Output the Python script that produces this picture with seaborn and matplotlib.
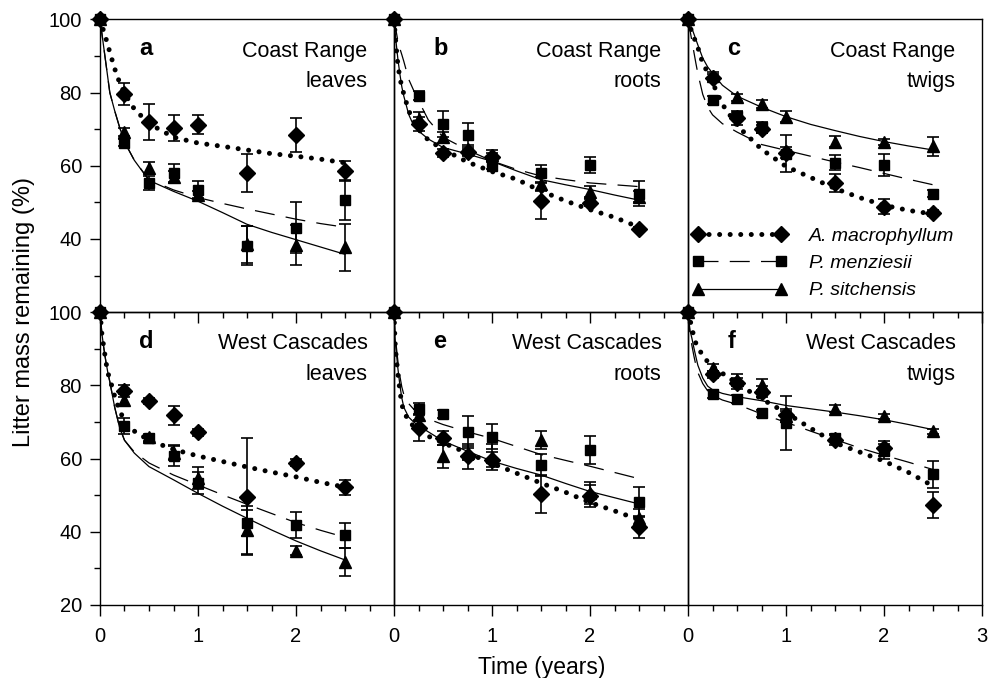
import matplotlib
matplotlib.use("Agg")
import matplotlib.pyplot as plt
from matplotlib.lines import Line2D
from matplotlib.ticker import FixedLocator
import seaborn as sns

# sampling times (years) and times along the fitted curves
t_obs = [0, 0.25, 0.5, 0.75, 1, 1.5, 2, 2.5]
t_fit = [0, 0.01, 0.02, 0.04, 0.06, 0.08, 0.1, 0.15, 0.2, 0.25, 0.35,
         0.5, 0.75, 1.0, 1.25, 1.5, 1.75, 2.0, 2.25, 2.5]

# --- a: Coast Range leaves
a_mac = [100, 79.6, 71.9, 70.3, 71.2, 58.1, 68.4, 58.5]
a_mac_se = [0, 3, 5, 3.5, 2.6, 5.2, 4.7, 2.7]
a_men = [100, 66.3, 55.3, 57.9, 53.5, 38.2, 43.1, 50.6]
a_men_se = [0, 1, 2, 2.5, 2.4, 5.3, 6.9, 5.5]
a_sit = [100, 69.2, 59.4, 57.0, 52.0, 38.5, 38.4, 37.7]
a_sit_se = [0, 1, 1.5, 1.5, 1, 5, 5.5, 6.5]
a_mac_fit = [100, 99.2, 98.4, 96.5, 94.8, 93, 91, 86.5, 82.7, 79.8, 75.5,
             71.5, 67.8, 66.2, 65.3, 64.3, 63.3, 62.6, 61.8, 60.8]
a_men_fit = [100, 98, 96, 92, 88, 84, 80, 75, 70.5, 66.5, 61.5,
             56.2, 53.4, 51.3, 49.7, 48.2, 46.8, 45.4, 44.2, 43.2]
a_sit_fit = [100, 98, 96, 92, 88, 84, 80, 75, 70.5, 66.5, 61.5,
             56, 53, 50.3, 47.2, 44, 41.8, 39.8, 37.8, 35.8]

# --- b: Coast Range roots
b_mac = [100, 71.4, 63.5, 63.7, 62.5, 50.4, 49.9, 42.7]
b_mac_se = [0, 2, 1, 1, 1, 5, 1, 0.5]
b_men = [100, 79.1, 71.4, 68.3, 60, 57.9, 60.3, 52.4]
b_men_se = [0, 1.2, 3.6, 3.3, 1, 2.3, 2.2, 3.3]
b_sit = [100, 72.8, 67.8, 64.6, 62.8, 55, 52.9, 51.5]
b_sit_se = [0, 2, 1.5, 1, 1.5, 2, 1.5, 1.5]
b_mac_fit = [100, 96.5, 93, 87.5, 84, 81.5, 79.6, 75, 72.3, 70, 67,
             64.5, 61, 58.4, 56.3, 53.1, 50.4, 48, 45.9, 43.2]
b_men_fit = [100, 98.5, 97, 94, 92, 90.3, 88.5, 83.6, 80.6, 77.8, 72.5,
             67.8, 64.3, 61.3, 59, 57.2, 56.2, 55.3, 54.8, 54.3]
b_sit_fit = [100, 97, 94, 89, 85, 81.5, 79, 74, 71, 69.5, 67.3,
             65, 63.2, 61.2, 58.6, 56.2, 54.8, 53.5, 52, 50.6]

# --- c: Coast Range twigs
c_mac = [100, 84.1, 73, 70, 63.5, 55.2, 48.8, 47]
c_mac_se = [0, 1, 2, 1, 1.5, 2.5, 2, 0.8]
c_men = [100, 78, 73.5, 70.5, 63.3, 60.8, 60.1, 52.4]
c_men_se = [0, 1, 1, 1.5, 5, 2, 3, 1]
c_sit = [100, 84.5, 78.7, 76.9, 73.4, 66.5, 66.5, 65.3]
c_sit_se = [0, 1, 1, 1, 1.5, 1.5, 0.8, 2.6]
c_mac_fit = [100, 99.3, 98.3, 96.2, 95, 93.8, 92.3, 88, 85.5, 82.7, 76.8,
             71, 64.5, 59.8, 56.8, 53.8, 51.3, 49.2, 47.8, 46.8]
c_men_fit = [100, 98.5, 97, 94, 91, 88, 85.2, 79.5, 76, 73.9, 71.5,
             69.2, 65.8, 64.2, 62.6, 61, 59.5, 57.9, 56.3, 54.8]
c_sit_fit = [100, 99.3, 98.6, 97.5, 96, 94.5, 93, 89.4, 87, 85.3, 82,
             79, 76, 73.4, 71.3, 69.6, 68, 66.6, 65.4, 64.3]

# --- d: West Cascades leaves
d_mac = [100, 78.5, 75.8, 71.8, 67.2, 49.6, 58.9, 52.1]
d_mac_se = [0, 1.6, 0.8, 2.5, 1, 16, 1, 2.1]
d_men = [100, 68.8, 65.5, 60.6, 53.3, 42.4, 41.9, 39.0]
d_men_se = [0, 2.2, 1, 2.7, 3, 3.5, 3.5, 3.5]
d_sit = [100, 76.1, 65.8, 61.6, 54.6, 40.5, 34.8, 31.7]
d_sit_se = [0, 1.5, 1, 2, 3, 6.5, 1.2, 3.8]
d_mac_fit = [100, 97, 93.8, 90.2, 86.5, 83.4, 81.8, 77, 73, 70.5, 67.5,
             65, 62.5, 60.7, 59.2, 57.7, 56.3, 55, 53.5, 52.2]
d_men_fit = [100, 97, 94, 90, 86.5, 83.5, 81, 74, 68.5, 65, 61.8,
             58.8, 55.5, 52.8, 50.1, 47.5, 45, 42.5, 40.4, 38.5]
d_sit_fit = [100, 97, 94, 90, 86.5, 83.5, 81, 74, 68.5, 65, 61.5,
             57.8, 54.2, 50.5, 47, 43.7, 40.5, 37.5, 34.8, 32.3]

# --- e: West Cascades roots
e_mac = [100, 68.3, 65.6, 60.6, 59.7, 50.3, 49.9, 41.4]
e_mac_se = [0, 3.6, 2, 3.5, 2, 5.2, 3, 3]
e_men = [100, 73.6, 72.2, 67.2, 66.0, 58.3, 62.4, 48.1]
e_men_se = [0, 1.5, 1.2, 4.3, 3.4, 3, 3.8, 4]
e_sit = [100, 72.0, 60.6, 61.5, 60.5, 65.1, 50.5, 43.7]
e_sit_se = [0, 1.5, 3.2, 2, 3.5, 2.4, 3, 2.5]
e_mac_fit = [100, 92, 88.5, 83, 78.5, 74.8, 72.8, 70.3, 68.8, 67.8, 66.1,
             64.3, 61.5, 58.7, 56, 53.3, 50.8, 48, 45.7, 43.3]
e_men_fit = [100, 94, 91.5, 86.5, 82.5, 79.5, 77.5, 75, 73.5, 72.5, 70.8,
             69.3, 67.3, 65.5, 63.3, 61.1, 59.5, 57.9, 56.2, 54.5]
e_sit_fit = [100, 93, 90, 84.5, 80, 76.5, 74, 71.3, 70, 69, 67.3,
             64.8, 62, 59.3, 57.3, 55.5, 53.2, 51, 49.3, 47.6]

# --- f: West Cascades twigs
f_mac = [100, 83, 80.6, 78.2, 72.0, 65.1, 62.8, 47.3]
f_mac_se = [0, 1, 1.5, 1.5, 1.5, 1.5, 2, 3.6]
f_men = [100, 77.6, 76.3, 72.4, 69.7, 65.5, 62.0, 55.7]
f_men_se = [0, 1, 1, 1, 7.3, 1, 2, 3.7]
f_sit = [100, 84.8, 81.5, 80.2, 71.5, 73.6, 71.5, 67.4]
f_sit_se = [0, 1, 1.5, 1.5, 1.5, 1, 0.8, 0.8]
f_mac_fit = [100, 99, 98, 95.5, 93.3, 91.5, 90.6, 88, 86.5, 85.2, 83.3,
             80.5, 76.3, 72.5, 68.3, 64.3, 61.8, 59.3, 56.2, 52.5]
f_men_fit = [100, 97, 94, 90.8, 88, 85.5, 83.5, 80.5, 78.5, 77.3, 76,
             74.8, 72.2, 69.9, 67.5, 65.2, 62.9, 60.9, 59, 57]
f_sit_fit = [100, 97.5, 95, 92.8, 90.2, 87.8, 85.5, 82, 79.8, 78.8, 77.8,
             76.9, 75.8, 74.5, 73.6, 72.7, 71.7, 70.6, 69.3, 67.9]

species = ["A. macrophyllum", "P. menziesii", "P. sitchensis"]
panels = [
    ("a", "Coast Range", "leaves",
     [(a_mac, a_mac_se, a_mac_fit), (a_men, a_men_se, a_men_fit), (a_sit, a_sit_se, a_sit_fit)]),
    ("b", "Coast Range", "roots",
     [(b_mac, b_mac_se, b_mac_fit), (b_men, b_men_se, b_men_fit), (b_sit, b_sit_se, b_sit_fit)]),
    ("c", "Coast Range", "twigs",
     [(c_mac, c_mac_se, c_mac_fit), (c_men, c_men_se, c_men_fit), (c_sit, c_sit_se, c_sit_fit)]),
    ("d", "West Cascades", "leaves",
     [(d_mac, d_mac_se, d_mac_fit), (d_men, d_men_se, d_men_fit), (d_sit, d_sit_se, d_sit_fit)]),
    ("e", "West Cascades", "roots",
     [(e_mac, e_mac_se, e_mac_fit), (e_men, e_men_se, e_men_fit), (e_sit, e_sit_se, e_sit_fit)]),
    ("f", "West Cascades", "twigs",
     [(f_mac, f_mac_se, f_mac_fit), (f_men, f_men_se, f_men_fit), (f_sit, f_sit_se, f_sit_fit)]),
]

# line / marker style per species
line_kw = [
    dict(linestyle=(0, (0.01, 2.1)), lw=3.6, dash_capstyle="round"),
    dict(linestyle=(0, (16, 9)), lw=0.9),
    dict(linestyle="-", lw=0.9),
]
markers = [("D", 8.5), ("s", 7), ("^", 8.5)]

sns.set_style("ticks")
plt.rcParams["font.family"] = ["Liberation Sans", "DejaVu Sans"]
plt.rcParams["axes.linewidth"] = 1.0
for key in ["text.color", "axes.labelcolor", "xtick.color", "ytick.color",
            "axes.edgecolor"]:
    plt.rcParams[key] = "black"

fig, axes = plt.subplots(2, 3, figsize=(9.95, 6.78), dpi=100)
fig.subplots_adjust(left=0.1005, right=0.987, top=0.9715, bottom=0.1077,
                    wspace=0, hspace=0)

for ax, (letter, site, tissue, series) in zip(axes.flat, panels):
    ax.patch.set_alpha(0)
    for k, (obs, se, fit) in enumerate(series):
        sns.lineplot(x=t_fit, y=fit, ax=ax, color="black", errorbar=None,
                     zorder=2, **line_kw[k])
        m, ms = markers[k]
        cont = ax.errorbar(t_obs, obs, yerr=se, fmt=m, ms=ms, color="black",
                           ecolor="black", elinewidth=1.2, capsize=4.3,
                           capthick=1.2, zorder=3)
        for art in cont.get_children():
            art.set_clip_on(False)
    ax.text(0.133, 0.878, letter, transform=ax.transAxes, fontsize=17,
            fontweight="bold", ha="left", va="baseline")
    ax.text(0.91, 0.873, site, transform=ax.transAxes, fontsize=15.5,
            ha="right", va="baseline")
    ax.text(0.91, 0.768, tissue, transform=ax.transAxes, fontsize=15.5,
            ha="right", va="baseline")

for i, ax in enumerate(axes.flat):
    row, col = divmod(i, 3)
    ax.set_xlim(0, 3)
    ax.set_ylim(20, 100)
    for side in ["top", "right", "left", "bottom"]:
        ax.spines[side].set_visible(True)
        ax.spines[side].set_color("black")
    ax.set_xticks([0, 1, 2, 3] if col == 2 else [0, 1, 2])
    ax.xaxis.set_minor_locator(FixedLocator([0.25, 0.5, 0.75, 1.25, 1.5, 1.75,
                                             2.25, 2.5, 2.75]))
    ax.tick_params(axis="x", which="major", direction="out", length=8,
                   width=1, labelsize=14.5, pad=8, labelbottom=(row == 1))
    ax.tick_params(axis="x", which="minor", direction="out", length=4.5, width=1)
    ax.set_ylabel("")
    if col == 0:
        ax.set_yticks([20, 40, 60, 80, 100] if row == 1 else [40, 60, 80, 100])
        ax.yaxis.set_minor_locator(FixedLocator([30, 50, 70, 90]))
        ax.tick_params(axis="y", which="major", direction="out", length=7,
                       width=1, labelsize=14.5, pad=6)
        ax.tick_params(axis="y", which="minor", direction="out", length=4, width=1)
    else:
        ax.set_yticks([])
        ax.tick_params(axis="y", which="both", left=False, labelleft=False)

# legend inside panel c
handles = []
for k in range(3):
    m, ms = markers[k]
    handles.append(Line2D([0, 1], [0, 0], color="black", marker=m, ms=ms,
                          markevery=[1], **line_kw[k]))
axes[0, 2].legend(handles, species, loc="lower left",
                  bbox_to_anchor=(0.0, 0.03), frameon=False, numpoints=2,
                  handlelength=4.9, handletextpad=1.1, labelspacing=0.5,
                  borderaxespad=0, borderpad=0.2,
                  prop=dict(size=14, style="italic"))

fig.text(0.024, 0.54, "Litter mass remaining (%)", rotation=90,
         ha="center", va="center", fontsize=17)
fig.text(0.544, 0.016, "Time (years)", ha="center", va="center", fontsize=16.5)

fig.savefig("out.png", dpi=100)
